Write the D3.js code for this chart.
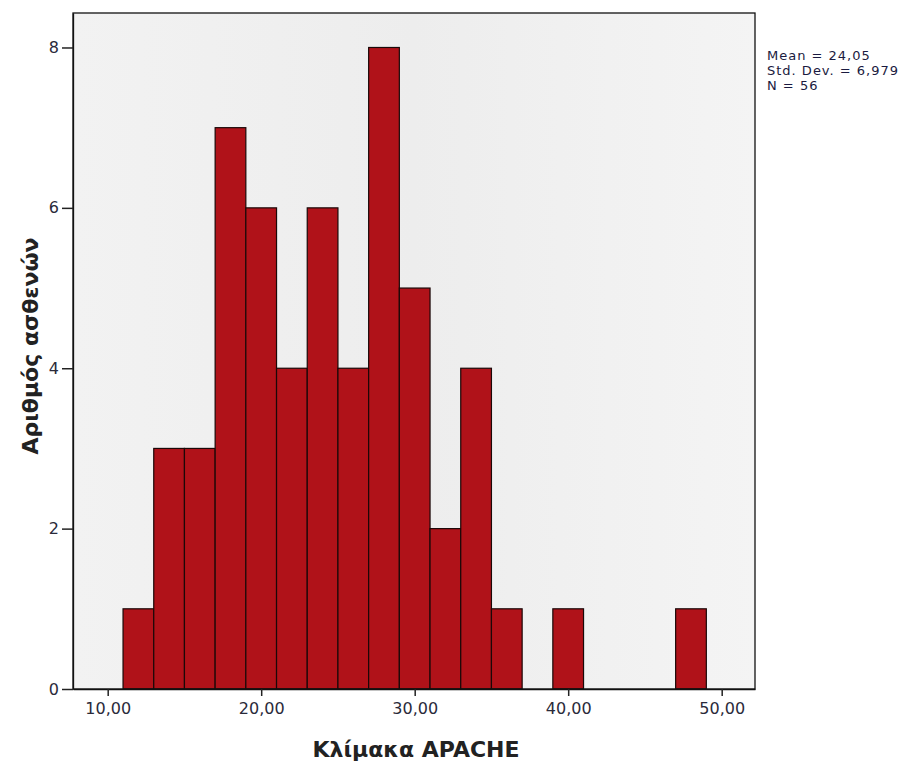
<!DOCTYPE html>
<html>
<head>
<meta charset="utf-8">
<script src="https://cdn.jsdelivr.net/npm/d3@7"></script>
<style>
  body { margin: 0; background: #fff; }
  text { font-family: "DejaVu Sans", Verdana, sans-serif; }
</style>
</head>
<body>
<div id="chart"></div>
<script>
// histogram bins (lower edge, upper edge) and counts
const BIN_START = [11, 13, 15, 17, 19, 21, 23, 25, 27, 29, 31, 33, 35, 39, 47];
const BIN_END   = [13, 15, 17, 19, 21, 23, 25, 27, 29, 31, 33, 35, 37, 41, 49];
const COUNTS    = [1, 3, 3, 7, 6, 4, 6, 4, 8, 5, 2, 4, 1, 1, 1];
const X_TICKS = [10, 20, 30, 40, 50];
const Y_TICKS = [0, 2, 4, 6, 8];
const STATS = ["Mean = 24,05", "Std. Dev. = 6,979", "N = 56"];

const FRAME_WIDTH = 919;
const FRAME_HEIGHT = 761;
const MARGINS = {left: 73, right: 164, top: 13, bottom: 72};
const VIS_WIDTH = FRAME_WIDTH - MARGINS.left - MARGINS.right;
const VIS_HEIGHT = FRAME_HEIGHT - MARGINS.top - MARGINS.bottom;

const data = COUNTS.map((c, i) => ({x0: BIN_START[i], x1: BIN_END[i], n: c}));

const svg = d3.select("#chart")
  .append("svg")
    .attr("width", FRAME_WIDTH)
    .attr("height", FRAME_HEIGHT);

const X_SCALE = d3.scaleLinear()
  .domain([7.74, 52.17])
  .range([0, VIS_WIDTH]);

const Y_SCALE = d3.scaleLinear()
  .domain([0, 8.43])
  .range([VIS_HEIGHT, 0]);

const plot = svg.append("g")
  .attr("transform", "translate(" + MARGINS.left + "," + MARGINS.top + ")");

// plot background, faint gradient like SPSS
const grad = svg.append("defs").append("linearGradient")
  .attr("id", "bg").attr("x1", 0).attr("x2", 1).attr("y1", 0).attr("y2", 0);
grad.append("stop").attr("offset", "0%").attr("stop-color", "#f2f2f2");
grad.append("stop").attr("offset", "50%").attr("stop-color", "#ededed");
grad.append("stop").attr("offset", "100%").attr("stop-color", "#f4f4f4");

plot.append("rect")
  .attr("width", VIS_WIDTH)
  .attr("height", VIS_HEIGHT)
  .attr("fill", "url(#bg)");

// bars
plot.selectAll(".bar")
  .data(data)
  .enter()
  .append("rect")
    .attr("class", "bar")
    .attr("x", d => X_SCALE(d.x0))
    .attr("y", d => Y_SCALE(d.n))
    .attr("width", d => X_SCALE(d.x1) - X_SCALE(d.x0))
    .attr("height", d => VIS_HEIGHT - Y_SCALE(d.n))
    .attr("fill", "#b01219")
    .attr("stroke", "#1a0808")
    .attr("stroke-width", 1.2);

// frame
plot.append("rect")
  .attr("width", VIS_WIDTH)
  .attr("height", VIS_HEIGHT)
  .attr("fill", "none")
  .attr("stroke", "#111")
  .attr("stroke-width", 1.3);

// axes
const xAxis = plot.append("g")
  .attr("transform", "translate(0," + VIS_HEIGHT + ")")
  .call(d3.axisBottom(X_SCALE)
    .tickValues(X_TICKS)
    .tickSize(7)
    .tickSizeOuter(0)
    .tickPadding(7)
    .tickFormat(d => d.toFixed(2).replace(".", ",")));

const yAxis = plot.append("g")
  .call(d3.axisLeft(Y_SCALE)
    .tickValues(Y_TICKS)
    .tickSize(11)
    .tickSizeOuter(0)
    .tickPadding(3)
    .tickFormat(d3.format("d")));

[xAxis, yAxis].forEach(a => {
  a.select(".domain").attr("stroke", "#111").attr("stroke-width", 1.3);
  a.selectAll(".tick line").attr("stroke", "#222").attr("stroke-width", 1.5);
  a.selectAll(".tick text")
    .attr("fill", "#2a2a3a")
    .attr("font-size", "16px")
    .style("font-family", "DejaVu Sans, sans-serif");
});

// axis titles
svg.append("text")
  .attr("x", 416)
  .attr("y", 757)
  .attr("text-anchor", "middle")
  .attr("font-size", "22px")
  .attr("font-weight", "bold")
  .attr("fill", "#222")
  .text("Κλίμακα APACHE");

svg.append("text")
  .attr("transform", "translate(38,346) rotate(-90)")
  .attr("text-anchor", "middle")
  .attr("font-size", "22px")
  .attr("font-weight", "bold")
  .attr("fill", "#222")
  .text("Αριθμός ασθενών");

// summary statistics
svg.selectAll(".stat")
  .data(STATS)
  .enter()
  .append("text")
    .attr("class", "stat")
    .attr("x", 767)
    .attr("y", (d, i) => 60 + i * 15)
    .attr("font-size", "13px")
    .attr("letter-spacing", "1px")
    .attr("fill", "#1a1a40")
    .text(d => d);
</script>
</body>
</html>
